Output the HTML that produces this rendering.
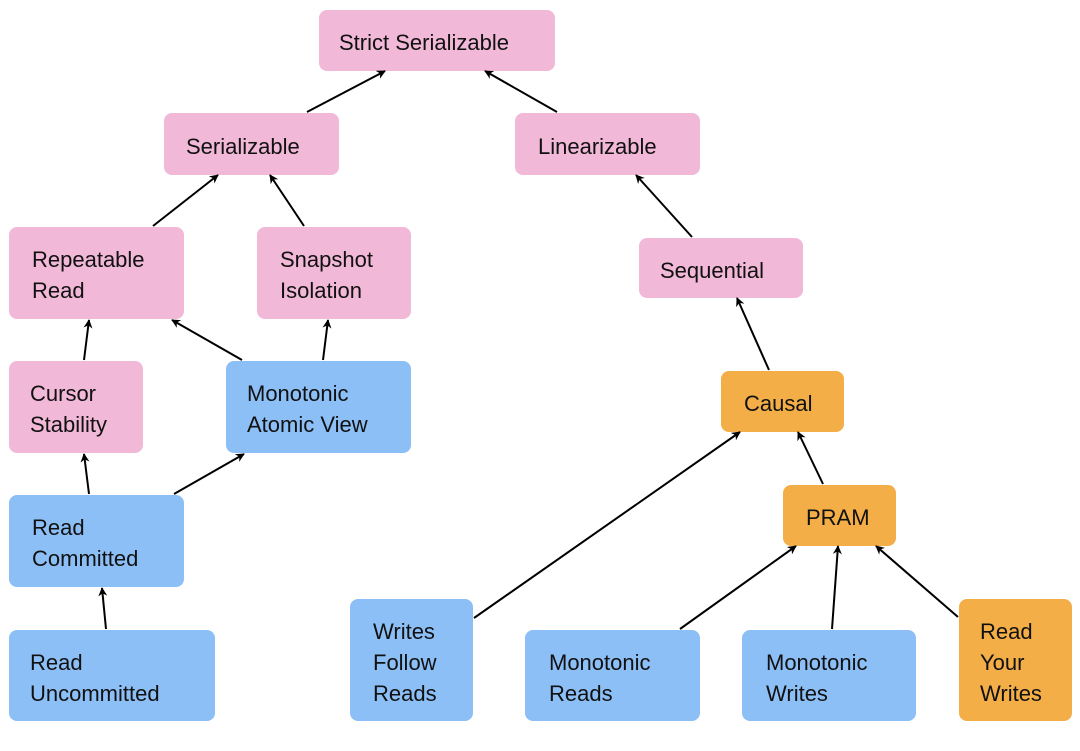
<!DOCTYPE html>
<html><head><meta charset="utf-8"><style>
html,body{margin:0;padding:0;background:#fff;}
svg{display:block;}
text{font-family:"Liberation Sans",sans-serif;font-size:22px;fill:#111;}
</style></head><body>
<svg width="1080" height="751" viewBox="0 0 1080 751" xmlns="http://www.w3.org/2000/svg">
<defs><marker id="a" viewBox="0 0 10 10" refX="9" refY="5" markerWidth="9" markerHeight="9" markerUnits="userSpaceOnUse" orient="auto"><path d="M0,0 L10,5 L0,10 L3,5 z" fill="#000"/></marker></defs>
<g fill="#F2B8D8">
<rect x="319" y="10" width="236" height="61" rx="8"/>
<rect x="164" y="113" width="175" height="62" rx="8"/>
<rect x="515" y="113" width="185" height="62" rx="8"/>
<rect x="9" y="227" width="175" height="92" rx="8"/>
<rect x="257" y="227" width="154" height="92" rx="8"/>
<rect x="639" y="238" width="164" height="60" rx="8"/>
<rect x="9" y="361" width="134" height="92" rx="8"/>
</g>
<g fill="#8DBFF7">
<rect x="226" y="361" width="185" height="92" rx="8"/>
<rect x="9" y="495" width="175" height="92" rx="8"/>
<rect x="9" y="630" width="206" height="91" rx="8"/>
<rect x="350" y="599" width="123" height="122" rx="8"/>
<rect x="525" y="630" width="175" height="91" rx="8"/>
<rect x="742" y="630" width="174" height="91" rx="8"/>
</g>
<g fill="#F3AE48">
<rect x="721" y="371" width="123" height="61" rx="8"/>
<rect x="783" y="485" width="113" height="61" rx="8"/>
<rect x="959" y="599" width="113" height="122" rx="8"/>
</g>
<g stroke="#000" stroke-width="2" marker-end="url(#a)">
<line x1="307" y1="112" x2="385" y2="71"/>
<line x1="557" y1="112" x2="485" y2="71"/>
<line x1="153" y1="226" x2="218" y2="175"/>
<line x1="304" y1="226" x2="270" y2="175"/>
<line x1="692" y1="237" x2="636" y2="175"/>
<line x1="84" y1="360" x2="89" y2="320"/>
<line x1="242" y1="360" x2="172" y2="320"/>
<line x1="323" y1="360" x2="328" y2="320"/>
<line x1="769" y1="370" x2="737" y2="298"/>
<line x1="89" y1="494" x2="84" y2="454"/>
<line x1="174" y1="494" x2="244" y2="454"/>
<line x1="106" y1="629" x2="102" y2="588"/>
<line x1="474" y1="618" x2="740" y2="432"/>
<line x1="823" y1="484" x2="798" y2="432"/>
<line x1="680" y1="629" x2="796" y2="546"/>
<line x1="832" y1="629" x2="838" y2="546"/>
<line x1="958" y1="617" x2="876" y2="546"/>
</g>
<text x="339" y="50">Strict Serializable</text>
<text x="186" y="154">Serializable</text>
<text x="538" y="154">Linearizable</text>
<text x="32" y="267">Repeatable</text><text x="32" y="298">Read</text>
<text x="280" y="267">Snapshot</text><text x="280" y="298">Isolation</text>
<text x="660" y="278">Sequential</text>
<text x="30" y="401">Cursor</text><text x="30" y="432">Stability</text>
<text x="247" y="401">Monotonic</text><text x="247" y="432">Atomic View</text>
<text x="744" y="411">Causal</text>
<text x="32" y="535">Read</text><text x="32" y="566">Committed</text>
<text x="806" y="525">PRAM</text>
<text x="30" y="670">Read</text><text x="30" y="701">Uncommitted</text>
<text x="373" y="639">Writes</text><text x="373" y="670">Follow</text><text x="373" y="701">Reads</text>
<text x="549" y="670">Monotonic</text><text x="549" y="701">Reads</text>
<text x="766" y="670">Monotonic</text><text x="766" y="701">Writes</text>
<text x="980" y="639">Read</text><text x="980" y="670">Your</text><text x="980" y="701">Writes</text>
</svg>
</body></html>
